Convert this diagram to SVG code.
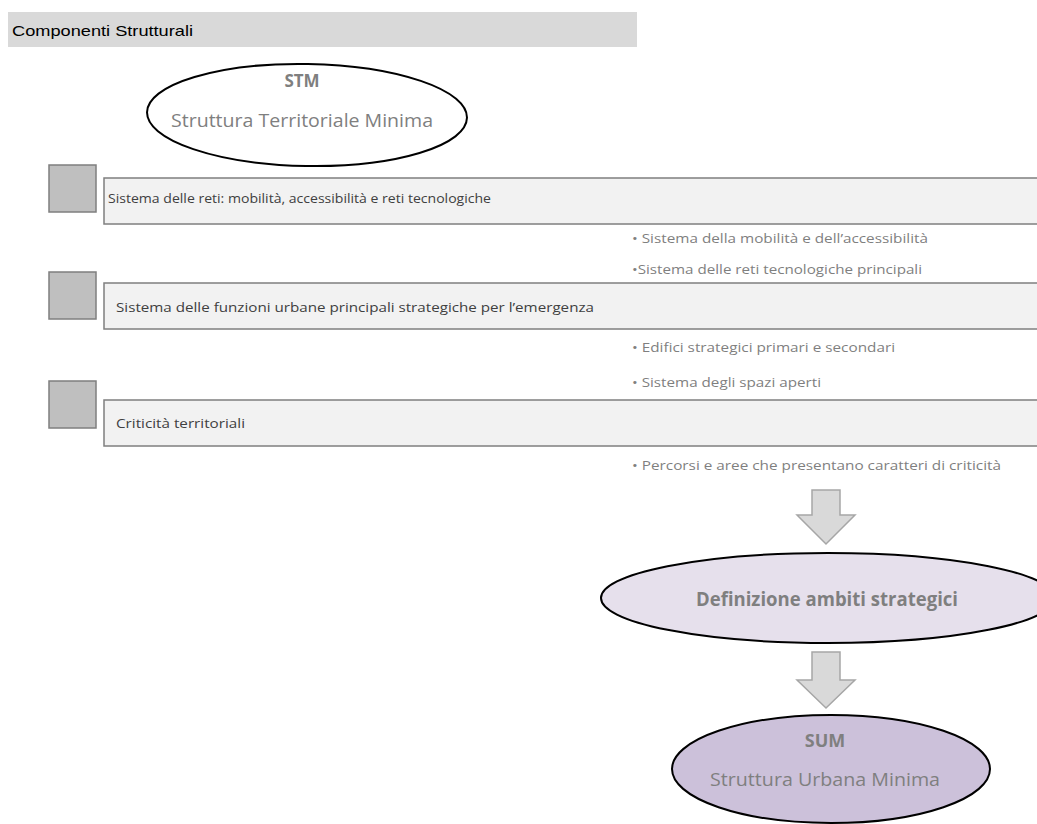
<svg xmlns="http://www.w3.org/2000/svg" width="1037" height="824" viewBox="0 0 1037 824">
<defs>
<style>
.hdr{font-family:"Liberation Sans",Arial,sans-serif;font-size:14.5px;fill:#000}
.sq{fill:#bfbfbf;stroke:#7f7f7f;stroke-width:1.5}
.bar{fill:#f2f2f2;stroke:#7f7f7f;stroke-width:1.5}
.bt{font-family:"Open Sans","Noto Sans",sans-serif;font-size:12.5px;fill:#404040}
.bl{font-family:"Open Sans","Noto Sans",sans-serif;font-size:13.5px;fill:#7f7f7f}
.el{stroke:#000;stroke-width:2}
.et{font-family:"Open Sans","Noto Sans",sans-serif;fill:#7f7f7f;text-anchor:middle}
.arr{fill:#d9d9d9;stroke:#a6a6a6;stroke-width:1.5}
</style>
</defs>
<rect x="0" y="0" width="1037" height="824" fill="#fff"/>
<g id="header">
<rect x="8" y="12" width="629" height="35" fill="#d9d9d9"/>
<text class="hdr" x="12" y="36" textLength="181" lengthAdjust="spacingAndGlyphs">Componenti Strutturali</text>
</g>
<g id="stm">
<ellipse class="el" cx="307" cy="115" rx="160" ry="51" fill="#fff" transform="rotate(1 307 115)"/>
<text class="et" x="302" y="87" font-size="17" font-weight="bold">STM</text>
<text class="et" x="302" y="127" font-size="18" textLength="262" lengthAdjust="spacingAndGlyphs">Struttura Territoriale Minima</text>
</g>
<g id="row1">
<rect class="sq" x="49" y="165" width="47" height="47"/>
<rect class="bar" x="104" y="178" width="945" height="46"/>
<text class="bt" x="108" y="203" textLength="383" lengthAdjust="spacingAndGlyphs">Sistema delle reti: mobilità, accessibilità e reti tecnologiche</text>
</g>
<g id="bullets1">
<text class="bl" x="632" y="243" textLength="296" lengthAdjust="spacingAndGlyphs">• Sistema della mobilità e dell’accessibilità</text>
<text class="bl" x="632" y="274" textLength="290" lengthAdjust="spacingAndGlyphs">•Sistema delle reti tecnologiche principali</text>
</g>
<g id="row2">
<rect class="sq" x="49" y="272" width="47" height="47"/>
<rect class="bar" x="104" y="283" width="945" height="46"/>
<text class="bt" x="116" y="312" textLength="478" lengthAdjust="spacingAndGlyphs">Sistema delle funzioni urbane principali strategiche per l’emergenza</text>
</g>
<g id="bullets2">
<text class="bl" x="632" y="352" textLength="263" lengthAdjust="spacingAndGlyphs">• Edifici strategici primari e secondari</text>
<text class="bl" x="632" y="387" textLength="189" lengthAdjust="spacingAndGlyphs">• Sistema degli spazi aperti</text>
</g>
<g id="row3">
<rect class="sq" x="49" y="381" width="47" height="47"/>
<rect class="bar" x="104" y="400" width="945" height="46"/>
<text class="bt" x="116" y="428" textLength="129" lengthAdjust="spacingAndGlyphs">Criticità territoriali</text>
</g>
<g id="bullets3">
<text class="bl" x="632" y="470" textLength="369" lengthAdjust="spacingAndGlyphs">• Percorsi e aree che presentano caratteri di criticità</text>
</g>
<g id="connectors">
<path class="arr" d="M812,490 H840 V515 H855 L826,544 L797,515 H812 Z"/>
<path class="arr" d="M812,652 H840 V680 H855 L826,708 L797,680 H812 Z"/>
</g>
<g id="definizione">
<ellipse class="el" cx="828" cy="598" rx="227" ry="45" fill="#e6e0ec"/>
<text class="et" x="827" y="606" font-size="19" font-weight="bold" textLength="262" lengthAdjust="spacingAndGlyphs">Definizione ambiti strategici</text>
</g>
<g id="sum">
<ellipse class="el" cx="831" cy="769" rx="159" ry="54" fill="#ccc1da"/>
<text class="et" x="825" y="747" font-size="18" font-weight="bold">SUM</text>
<text class="et" x="825" y="786" font-size="18" textLength="230" lengthAdjust="spacingAndGlyphs">Struttura Urbana Minima</text>
</g>
</svg>
